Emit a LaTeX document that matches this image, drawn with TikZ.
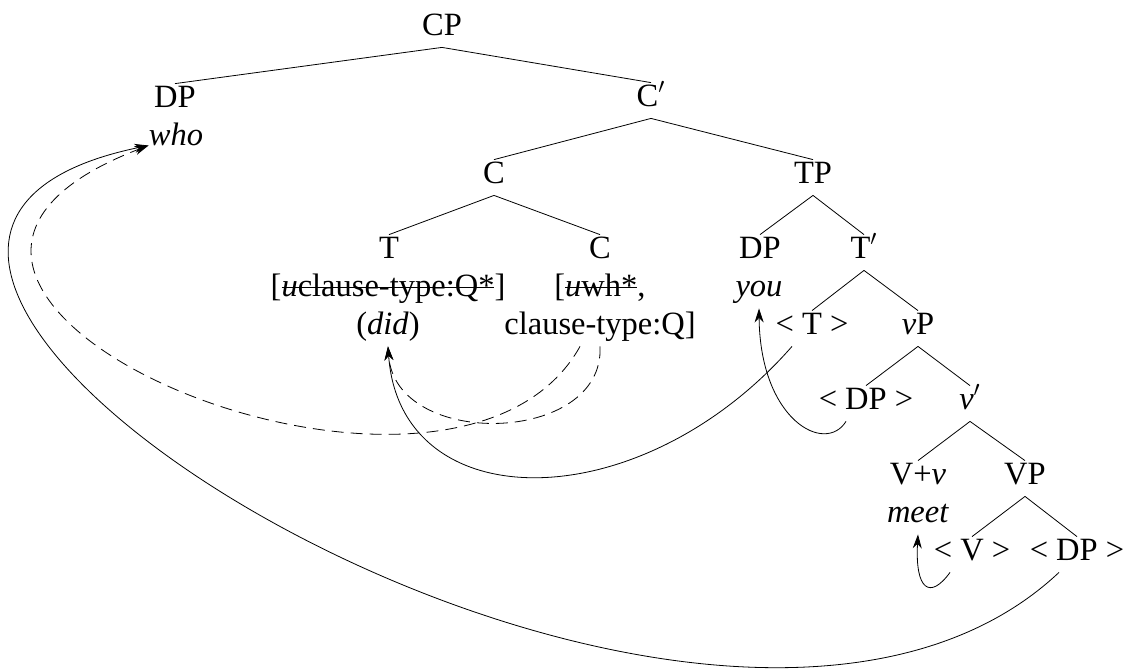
\documentclass[tikz,border=0pt]{standalone}
\usepackage{fontspec}
\setmainfont{Liberation Serif}
\usepackage{tikz}
\usetikzlibrary{arrows.meta}
\newcommand\strk[1]{\leavevmode\setbox0\hbox{#1}\rlap{\rule[0.24em]{\wd0}{0.45pt}}\box0}
\tikzstyle{cat}=[anchor=base,inner xsep=0pt,inner ysep=3.5pt,text height=0.8em,text depth=0.25em,font=\fontsize{16.25}{20}\selectfont]
\tikzstyle{mv}=[-{Stealth[length=7pt,width=4.5pt]}]
\tikzstyle{agree}=[mv,dash pattern=on 6pt off 3.5pt]

\begin{document}
\begin{tikzpicture}[x=0.5pt,y=-0.5pt]
	\useasboundingbox (0,0) rectangle (1139,671);
	\node[cat] (cp) at (442,35) {CP};
	\node[cat] (dp) at (175,107) {DP};
	\node[cat] (who) at (176,145) {\textit{who}};
	\node[cat] (cbar) at (651,106) {C$'$};
	\node[cat] (c) at (494,183) {C};
	\node[cat] (tp) at (813,183) {TP};
	\node[cat] (t) at (389,258) {T};
	\node[cat] (tfeat) at (388,296) {[\strk{\textit{u}clause-type:Q*}]};
	\node[cat] (did) at (388,334) {(\textit{did})};
	\node[cat] (c2) at (600,258) {C};
	\node[cat] (cfeat) at (600,296) {[\strk{\textit{u}wh*},};
	\node[cat] (ctype) at (600,334) {clause-type:Q]};
	\node[cat] (dpy) at (760,258) {DP};
	\node[cat] (you) at (759,296) {\textit{you}};
	\node[cat] (tbar) at (864,258) {T$'$};
	\node[cat] (ttr) at (812,334) {< T >};
	\node[cat] (vp) at (918,334) {\textit{v}P};
	\node[cat] (dptr) at (866,409) {< DP >};
	\node[cat] (vbar) at (970,409) {\textit{v}$'$};
	\node[cat] (vv) at (918,484) {V+\textit{v}};
	\node[cat] (meet) at (918,522) {\textit{meet}};
	\node[cat] (bigvp) at (1025,484) {VP};
	\node[cat] (vtr) at (972,560) {< V >};
	\node[cat] (dpo) at (1077,560) {< DP >};
	% branches
	\path [-] (cp.south) edge (dp.north);
	\path [-] (cp.south) edge (cbar.north);
	\path [-] (cbar.south) edge (c.north);
	\path [-] (cbar.south) edge (tp.north);
	\path [-] (c.south) edge (t.north);
	\path [-] (c.south) edge (c2.north);
	\path [-] (tp.south) edge (dpy.north);
	\path [-] (tp.south) edge (tbar.north);
	\path [-] (tbar.south) edge (ttr.north);
	\path [-] (tbar.south) edge (vp.north);
	\path [-] (vp.south) edge (dptr.north);
	\path [-] (vp.south) edge (vbar.north);
	\path [-] (vbar.south) edge (vv.north);
	\path [-] (vbar.south) edge (bigvp.north);
	\path [-] (bigvp.south) edge (vtr.north);
	\path [-] (bigvp.south) edge (dpo.north);
	% movement
	\draw[mv] ([xshift=-9pt]dpo.south) .. controls (700,910) and (-360,250) .. ([yshift=-3pt]who.west);
	\draw[mv] ([xshift=-10pt]ttr.south) .. controls (640,520) and (400,520) .. (did.south);
	\draw[mv] ([xshift=-10pt]dptr.south) .. controls (825,455) and (760,420) .. (you.south);
	\draw[mv] ([xshift=-11pt]vtr.south) .. controls (930,600) and (915,590) .. (meet.south);
	% agreement
	\draw[agree] ([xshift=-10pt]ctype.south) .. controls (450,580) and (-230,290) .. ([yshift=-3pt]who.west);
	\draw[agree] (ctype.south) .. controls (605,445) and (395,450) .. (did.south);
\end{tikzpicture}
\end{document}
